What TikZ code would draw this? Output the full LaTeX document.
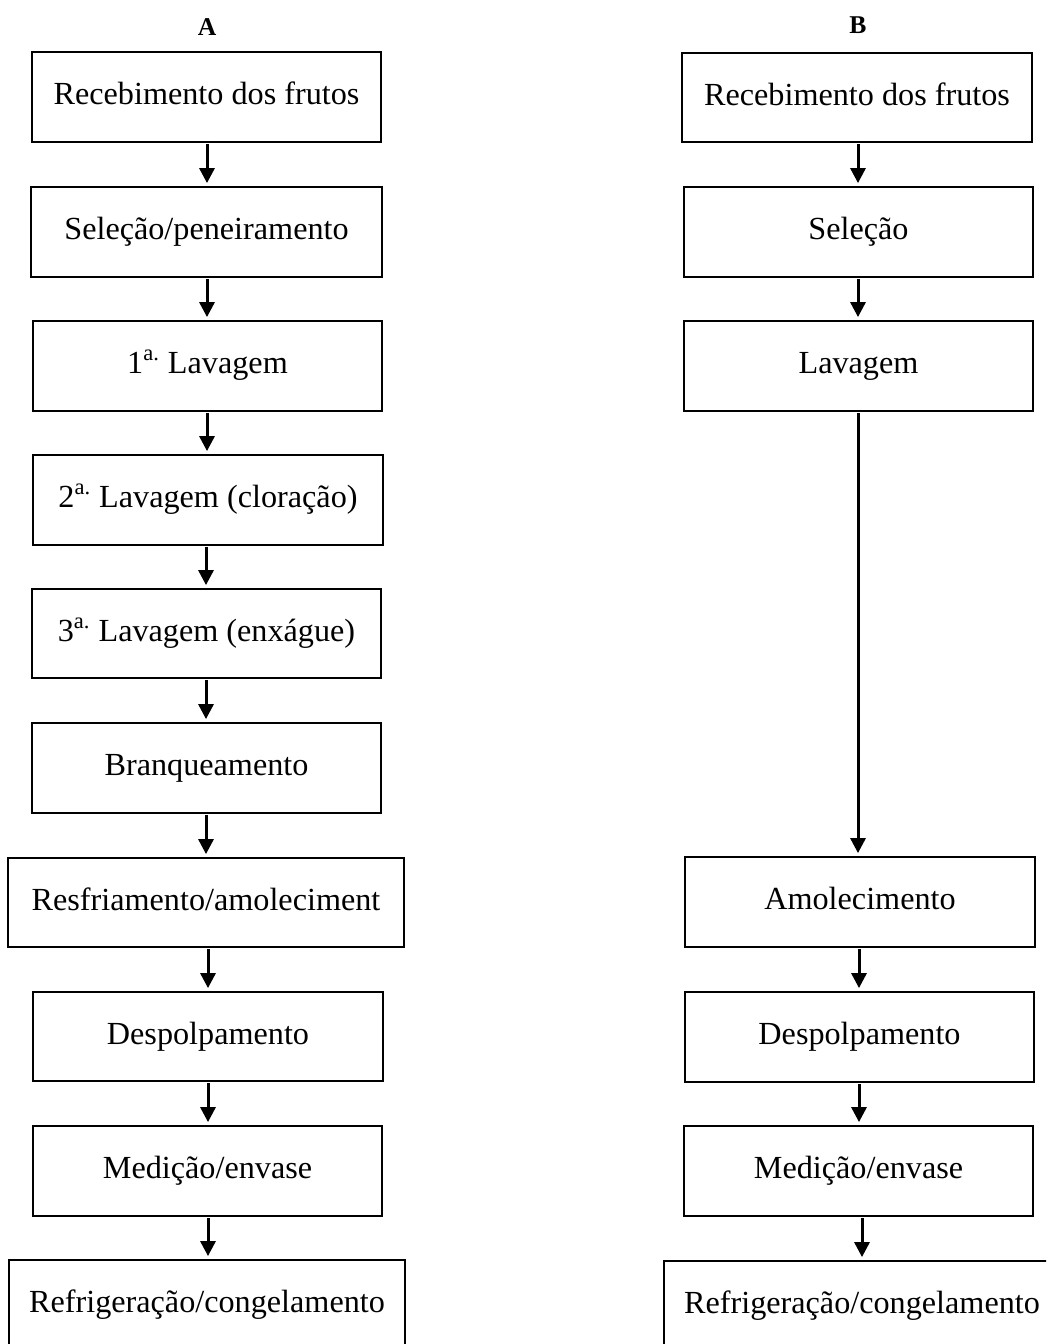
\documentclass[tikz,border=0pt]{standalone}
\usepackage{fontspec}
\setmainfont{Liberation Serif}
\usetikzlibrary{arrows.meta}
\begin{document}
\begin{tikzpicture}[x=0.5pt,y=-0.5pt,
  box/.style={draw=black,line width=0.9pt,inner sep=0pt,
    font=\fontsize{16.1pt}{19pt}\selectfont,text height=9.5pt,text depth=2pt,
    minimum height=45pt},
  ttl/.style={font=\fontsize{12.8pt}{14pt}\selectfont\bfseries,inner sep=0pt},
  flow/.style={line width=1.5pt,-{Triangle[length=7.5pt,width=7.5pt]},shorten >=1.5pt,shorten <=0.5pt}]
\useasboundingbox (0,0) rectangle (1046,1344);
\clip (0,0) rectangle (1046,1344);
\node[ttl] (tA) at (207,27) {A};
\node[ttl] (tB) at (858,25) {B};
% column A
\node[box,minimum width=174.5pt] (a1) at (206.5,97) {Recebimento dos frutos};
\node[box,minimum width=175.5pt] (a2) at (206.5,232) {Seleção/peneiramento};
\node[box,minimum width=174.5pt] (a3) at (207.5,366) {1\textsuperscript{a.} Lavagem};
\node[box,minimum width=175pt] (a4) at (208,500) {2\textsuperscript{a.} Lavagem (cloração)};
\node[box,minimum width=174.5pt,minimum height=44.5pt] (a5) at (206.5,633.5) {3\textsuperscript{a.} Lavagem (enxágue)};
\node[box,minimum width=174.5pt] (a6) at (206.5,768) {Branqueamento};
\node[box,minimum width=198pt,minimum height=44.5pt] (a7) at (206,902.5) {Resfriamento/amoleciment};
\node[box,minimum width=175pt,minimum height=44.5pt] (a8) at (208,1036.5) {Despolpamento};
\node[box,minimum width=174.5pt] (a9) at (207.5,1171) {Medição/envase};
\node[box,minimum width=198pt] (a10) at (207,1305) {Refrigeração/congelamento};
% column B
\node[box,minimum width=175pt,minimum height=44.5pt] (b1) at (857,97.5) {Recebimento dos frutos};
\node[box,minimum width=174.5pt] (b2) at (858.5,232) {Seleção};
\node[box,minimum width=174.5pt] (b3) at (858.5,366) {Lavagem};
\node[box,minimum width=175pt] (b4) at (860,902) {Amolecimento};
\node[box,minimum width=174.5pt] (b5) at (859.5,1037) {Despolpamento};
\node[box,minimum width=174.5pt] (b6) at (858.5,1171) {Medição/envase};
\node[box,minimum width=198pt] (b7) at (862,1306) {Refrigeração/congelamento};
% arrows A
\draw[flow] (a1.south -| 207,0) -- (a2.north -| 207,0);
\draw[flow] (a2.south -| 207,0) -- (a3.north -| 207,0);
\draw[flow] (a3.south -| 207,0) -- (a4.north -| 207,0);
\draw[flow] (a4.south -| 206,0) -- (a5.north -| 206,0);
\draw[flow] (a5.south -| 206,0) -- (a6.north -| 206,0);
\draw[flow] (a6.south -| 206,0) -- (a7.north -| 206,0);
\draw[flow] (a7.south -| 208,0) -- (a8.north -| 208,0);
\draw[flow] (a8.south -| 208,0) -- (a9.north -| 208,0);
\draw[flow] (a9.south -| 208,0) -- (a10.north -| 208,0);
% arrows B
\draw[flow] (b1.south -| 858,0) -- (b2.north -| 858,0);
\draw[flow] (b2.south -| 858,0) -- (b3.north -| 858,0);
\draw[flow] (b3.south -| 858,0) -- (b4.north -| 858,0);
\draw[flow] (b4.south -| 859,0) -- (b5.north -| 859,0);
\draw[flow] (b5.south -| 859,0) -- (b6.north -| 859,0);
\draw[flow] (b6.south -| 862,0) -- (b7.north -| 862,0);
\end{tikzpicture}
\end{document}
